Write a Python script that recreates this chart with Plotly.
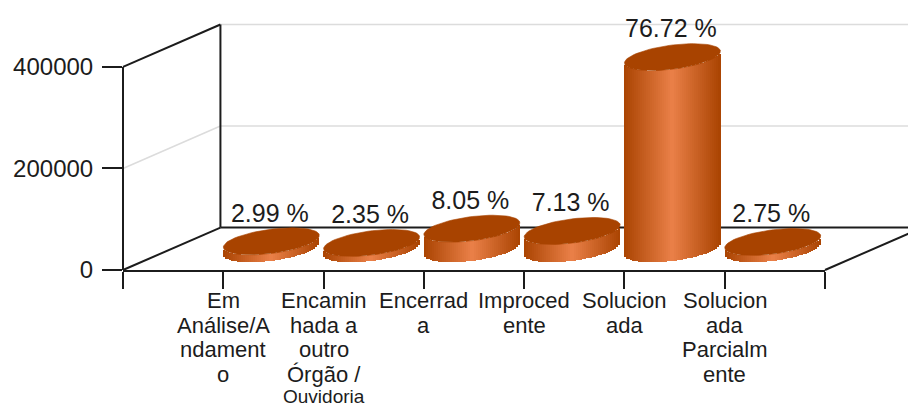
import math
import plotly.graph_objects as go

CATEGORY_LINES = [
    ["Em", "Análise/A", "ndament", "o"],
    ["Encamin", "hada a", "outro", "Órgão /", "Ouvidoria"],
    ["Encerrad", "a"],
    ["Improced", "ente"],
    ["Solucion", "ada"],
    ["Solucion", "ada", "Parcialm", "ente"],
]
VALUES = [14700, 11600, 39600, 35100, 377500, 13500]
PERCENT_LABELS = ["2.99 %", "2.35 %", "8.05 %", "7.13 %", "76.72 %", "2.75 %"]
Y_TICKS = [0, 200000, 400000]

W, H = 908, 407
L, R, T400, B = 122.5, 825.0, 67.0, 270.5
T = 10.0  # top of the plot area, above the back wall
PX_X = (R - L) / 7.0
PX_Y = (B - T400) / 400000.0
Y_MAX = (B - T) / PX_Y
DEPTH_X, DEPTH_Y = 97.5, 42.5
FONT = "Liberation Sans, Arial, sans-serif"
INK = "#1c1c1c"
RIM_DARK = (170, 68, 2)
RIM_LIGHT = (234, 128, 72)
TOP_COLOR = "#A84300"

# cylinder footprint: a tilted ellipse, in px
DY = 13.5
DX = 21.0
HALF = 48.0
A = math.sqrt(HALF ** 2 - DX ** 2)
PHI = math.atan2(DX, A)
STEP = 2.0


def lower_px(u):
    a = math.acos(max(-1, min(1, u / HALF)))
    return DY * min(math.sin(PHI + a), math.sin(PHI - a))


def px_x(p):
    return p / PX_X


def val_y(p):
    return p / PX_Y


base_level = val_y(DEPTH_Y / 2)
base_x = px_x(DEPTH_X / 2 - 0.7)

bx, by, bb, bw, bc = [], [], [], [], []
for i, v in enumerate(VALUES):
    cx = i + 1 + base_x
    u = -HALF + STEP / 2
    while u < HALF:
        s = abs(u) / HALF
        c = [round(RIM_LIGHT[k] + (RIM_DARK[k] - RIM_LIGHT[k]) * s) for k in range(3)]
        bx.append(cx + px_x(u))
        by.append(v)
        bb.append(base_level + val_y(lower_px(u)))
        bw.append(px_x(STEP + 0.3))
        bc.append("rgb(%d,%d,%d)" % tuple(c))
        u += STEP

fig = go.Figure()
fig.add_trace(go.Bar(x=bx, y=by, base=bb, width=bw, marker=dict(color=bc, line=dict(width=0)),
                     cliponaxis=False, showlegend=False, hoverinfo="skip"))

for i, v in enumerate(VALUES):
    cx = i + 1 + base_x
    ts = [2 * math.pi * k / 72 for k in range(73)]
    ex = [cx + px_x(A * math.cos(t) + DX * math.sin(t)) for t in ts]
    ey = [v + base_level + val_y(DY * math.sin(t)) for t in ts]
    fig.add_trace(go.Scatter(x=ex, y=ey, mode="lines", fill="toself", fillcolor=TOP_COLOR,
                             line=dict(width=0.6, color=TOP_COLOR), cliponaxis=False,
                             showlegend=False, hoverinfo="skip"))

fig.add_trace(go.Scatter(
    x=[i + 1 + base_x - px_x(1.5) for i in range(len(VALUES))],
    y=[v + base_level + val_y(DY) for v in VALUES],
    mode="text", text=PERCENT_LABELS, textposition="top center",
    textfont=dict(family=FONT, size=25, color=INK), cliponaxis=False,
    showlegend=False, hoverinfo="skip"))

# walls and floor, expressed as paper fractions of the plot area
pw, ph = R - L, B - T


def seg(x0, y0, x1, y1, color, width):
    return dict(type="line", xref="paper", yref="paper", layer="below",
                x0=(x0 - L) / pw, x1=(x1 - L) / pw, y0=(B - y0) / ph, y1=(B - y1) / ph,
                line=dict(color=color, width=width))


shapes = []
for tick in Y_TICKS:
    y = B - tick * PX_Y
    color = "#dcdcdc" if tick == 200000 else INK
    shapes.append(seg(L, y, L + DEPTH_X, y - DEPTH_Y, color, 2 if color == INK else 1.5))
    shapes.append(seg(L + DEPTH_X, y - DEPTH_Y, R + DEPTH_X, y - DEPTH_Y,
                      INK if tick == 0 else "#dcdcdc", 2 if tick == 0 else 1.5))
shapes.append(seg(L, T400, L, B, INK, 2))
shapes.append(seg(L + DEPTH_X, T400 - DEPTH_Y, L + DEPTH_X, B - DEPTH_Y, INK, 2))
shapes.append(seg(R, B, R + DEPTH_X, B - DEPTH_Y, INK, 2))

annotations = []
for i, lines in enumerate(CATEGORY_LINES):
    for j, line in enumerate(lines):
        last_long = j == 4
        annotations.append(dict(x=i + 1, xref="x", y=0, yref="paper", yanchor="middle",
                                yshift=-(30.5 + 24.5 * j) + (2 if last_long else 0),
                                text=line, showarrow=False,
                                font=dict(family=FONT, size=19 if last_long else 22, color=INK)))

fig.update_layout(
    width=W, height=H, autosize=False,
    margin=dict(l=L, r=W - R, t=T, b=H - B, pad=0),
    paper_bgcolor="white", plot_bgcolor="rgba(0,0,0,0)",
    barmode="overlay", bargap=0, showlegend=False,
    shapes=shapes, annotations=annotations,
    xaxis=dict(range=[0, 7], tickmode="array", tickvals=list(range(8)),
               ticktext=[""] * 8, ticks="outside", ticklen=17, tickwidth=2, tickcolor=INK,
               showline=True, linecolor=INK, linewidth=2, showgrid=False, zeroline=False,
               automargin=False),
    yaxis=dict(range=[0, Y_MAX], tickmode="array", tickvals=Y_TICKS,
               ticktext=[str(t) for t in Y_TICKS], ticks="outside", ticklen=20, tickwidth=2,
               tickcolor=INK, showline=False, showgrid=False,
               zeroline=False, automargin=False, ticklabelstandoff=4,
               tickfont=dict(family=FONT, size=24, color=INK)),
)
fig.write_html("out.html", config=dict(displayModeBar=False),
               post_script="document.body.style.margin='0';")
